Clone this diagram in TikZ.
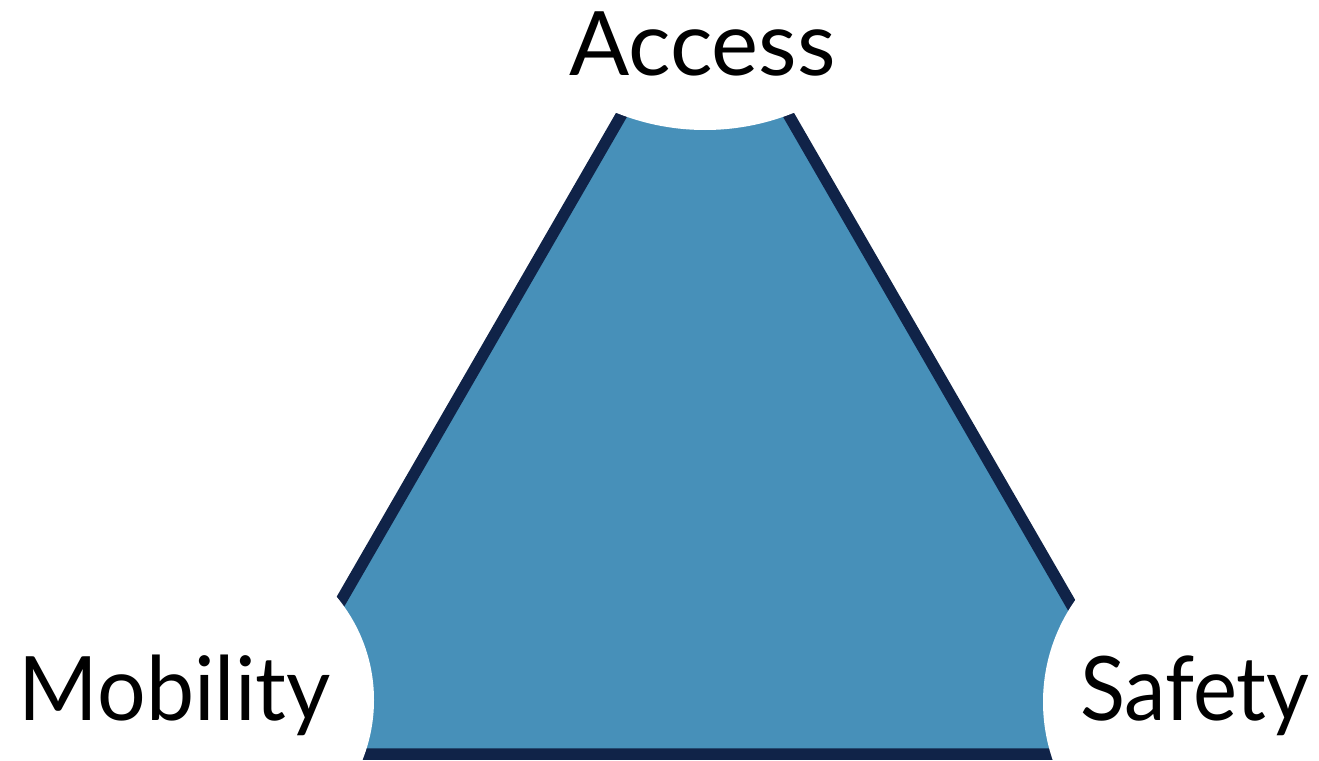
\documentclass[tikz,border=0pt]{standalone}
\usepackage{fontspec}
\setmainfont{Lato}
\definecolor{fillblue}{RGB}{71,144,185}
\definecolor{edgenavy}{RGB}{16,35,72}
\begin{document}
\begin{tikzpicture}[x=1pt,y=-1pt,
  tri/.style={fill=fillblue,draw=edgenavy,line width=11.5pt,line join=miter},
  whitedisc/.style={circle,fill=white,draw=none,inner sep=0pt},
  lbl/.style={inner sep=0pt,anchor=base,font=\fontsize{89}{100}\selectfont}]
\useasboundingbox (0,0) rectangle (1319,760);
\begin{scope}
\clip (0,0) rectangle (1319,760);
\coordinate (apex) at (705,-29.8);
\coordinate (bl) at (252.5,754);
\coordinate (br) at (1157.5,754);
\draw[tri] (apex) -- (bl) -- (br) -- cycle;
\node[whitedisc,minimum size=474pt] (topdisc) at (705,-107) {};
\node[whitedisc,minimum size=322pt] (leftdisc) at (213,700) {};
\node[whitedisc,minimum size=354pt] (rightdisc) at (1220,702) {};
\end{scope}
\node[lbl] (access) at (702.5,75) {Access};
\node[lbl] (mobility) at (174.8,720) {\scalebox{0.965}[1]{Mobility}};
\node[lbl] (safety) at (1194.8,720) {\scalebox{0.935}[1]{Safety}};
\end{tikzpicture}
\end{document}
